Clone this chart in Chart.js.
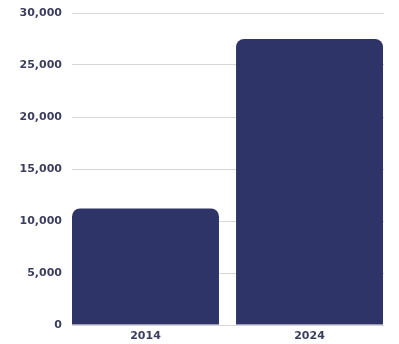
<!DOCTYPE html>
<html>
<head>
<meta charset="utf-8">
<script src="https://cdn.jsdelivr.net/npm/chart.js@4"></script>
<style>
  html, body { margin: 0; padding: 0; background: #ffffff; }
  #wrap { width: 399px; height: 344px; position: relative; }
</style>
</head>
<body>
<div id="wrap"><canvas id="c"></canvas></div>
<script>
const categories = ['2014', '2024'];
const values = [11200, 27500];
const yTicks = [0, 5000, 10000, 15000, 20000, 25000, 30000];

const navy = '#2f3468';
const tickColor = '#3b3e5e';
const gridColor = '#d6d6d6';
const tickFont = { family: 'DejaVu Sans', size: 11, weight: '700' };

new Chart(document.getElementById('c'), {
  type: 'bar',
  data: {
    datasets: [{
      data: categories.map((c, i) => ({ x: i, y: values[i] })),
      backgroundColor: navy,
      borderRadius: 8,
      barPercentage: 0.896,
      categoryPercentage: 1
    }]
  },
  options: {
    responsive: true,
    maintainAspectRatio: false,
    animation: false,
    devicePixelRatio: 1,
    layout: { padding: { top: 13, right: 15, bottom: 0, left: 0 } },
    plugins: { legend: { display: false }, tooltip: { enabled: false } },
    scales: {
      x: {
        type: 'linear',
        offset: false,
        min: -0.448,
        max: 1.454,
        grid: { display: false, drawTicks: false, offset: false },
        border: { display: false },
        afterBuildTicks: (s) => { s.ticks = categories.map((c, i) => ({ value: i })); },
        afterFit: (s) => { s.height = 19; s.paddingLeft = 0; s.paddingRight = 0; },
        ticks: {
          autoSkip: false,
          maxRotation: 0,
          padding: 5,
          color: tickColor,
          font: tickFont,
          callback: (v) => categories[v]
        }
      },
      y: {
        min: 0,
        max: 30000,
        afterBuildTicks: (s) => { s.ticks = yTicks.map(v => ({ value: v })); },
        afterFit: (s) => { s.width = 72; s.paddingTop = 0; s.paddingBottom = 0; },
        grid: { color: gridColor, lineWidth: 1, drawTicks: false },
        border: { display: false },
        ticks: {
          padding: 10,
          color: tickColor,
          font: tickFont,
          callback: (v) => v.toLocaleString('en-US')
        }
      }
    }
  }
});
</script>
</body>
</html>
